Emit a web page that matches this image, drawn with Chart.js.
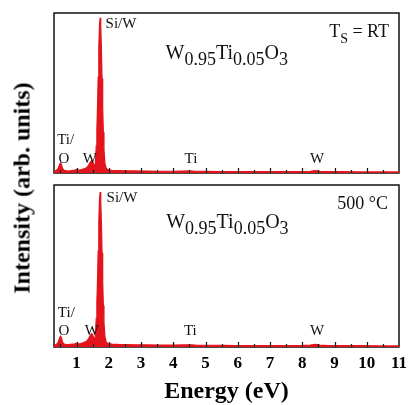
<!DOCTYPE html>
<html><head><meta charset="utf-8">
<script src="https://cdn.jsdelivr.net/npm/chart.js@4"></script>
<style>
html,body{margin:0;padding:0;background:#fff;}
#wrap{position:relative;width:409px;height:405px;overflow:hidden;background:#fff;}
.pane{position:absolute;left:0;width:409px;}
#ylab{position:absolute;left:22px;top:188px;transform:translate(-50%,-50%) rotate(-90deg);font:bold 24px "Liberation Serif";white-space:nowrap;color:#000;}
</style></head><body>
<div id="wrap">
<div class="pane" style="top:0;height:180px"><canvas id="c1" width="409" height="180"></canvas></div>
<div class="pane" style="top:180px;height:225px"><canvas id="c2" width="409" height="225"></canvas></div>
<div id="ylab">Intensity (arb. units)</div>
</div>
<script>
// Energy axis (eV)
const energy = [0.30,0.36,0.42,0.46,0.50,0.53,0.56,0.60,0.66,0.72,0.80,0.88,0.95,1.00,1.05,1.12,1.20,1.28,1.34,1.38,1.42,1.46,1.50,1.54,
  1.58,1.61,1.63,1.65,1.67,1.69,1.71,1.73,1.75,1.77,1.79,1.81,1.83,1.85,1.88,1.92,1.98,
  2.1,2.3,2.5,2.8,3.2,3.6,4.0,4.3,4.5,4.7,5.0,5.5,6.0,6.5,7.0,7.5,8.0,8.25,8.4,8.55,8.8,9.2,9.8,10.4,11.0];
// Counts, T_S = RT
const countsRT = [1.0,1.5,2.5,4.5,6.3,5.5,3.0,1.8,1.5,1.2,1.4,1.6,1.8,2.2,1.8,2.0,2.4,3.0,4.0,5.0,6.5,7.6,7.0,5.0,
  5.5,17,27,41.5,60,78,92,97,91.5,77.5,59,41,25.5,14.5,6,2.8,2.0,
  1.6,1.5,1.4,1.3,1.2,1.1,1.1,1.2,1.3,1.1,1.0,0.9,0.9,0.8,0.8,0.8,0.9,1.1,1.5,1.1,0.8,0.8,0.7,0.7,0.7];
// Counts, 500 °C
const counts500 = [1.0,1.5,2.5,4.8,6.8,6.0,3.2,2.0,1.6,1.4,1.6,1.8,2.0,2.4,2.0,2.2,2.6,3.2,4.3,5.5,7.2,8.4,7.6,5.4,
  6,18,28,42,60,78,92,97,91.5,77.5,59,41,26,15,6.5,3.0,2.2,
  1.8,1.6,1.5,1.4,1.3,1.2,1.2,1.3,1.4,1.2,1.1,1.0,0.9,0.9,0.9,0.9,1.0,1.2,1.6,1.2,0.9,0.8,0.8,0.7,0.7];
const majorTicks = [1,2,3,4,5,6,7,8,9,10,11];
const minorTicks = [0.5,1.5,2.5,3.5,4.5,5.5,6.5,7.5,8.5,9.5,10.5];
const xMin = 0.3, xMax = 11;
const yMaxRT = 100, yMax500 = 101.4;

const FAM = '"Liberation Serif", "DejaVu Serif", serif';

// Annotations: x,y in data units; parts = [text, fontSize, dy]
const labelsRT = [
  {x:1.90, y:90.7, parts:[['Si/W',15,0]]},
  {x:0.40, y:18.1, parts:[['Ti/',15,0]]},
  {x:0.44, y:6.2, parts:[['O',15,0]]},
  {x:1.19, y:6.2, parts:[['W',15,0]]},
  {x:4.35, y:6.2, parts:[['Ti',15,0]]},
  {x:8.24, y:6.2, parts:[['W',15,0]]},
  {x:3.76, y:71.3, parts:[['W',20,0],['0.95',18,6.5],['Ti',20,0],['0.05',18,6.5],['O',20,0],['3',18,6.5]]},
  {x:10.69, y:85.0, align:'right', parts:[['T',18,0],['S',14,6],[' = RT',18,0]]}
];
const labels500 = [
  {x:1.93, y:90.9, parts:[['Si/W',15,0]]},
  {x:0.42, y:19.0, parts:[['Ti/',15,0]]},
  {x:0.44, y:7.5, parts:[['O',15,0]]},
  {x:1.25, y:7.5, parts:[['W',15,0]]},
  {x:4.33, y:7.5, parts:[['Ti',15,0]]},
  {x:8.24, y:7.5, parts:[['W',15,0]]},
  {x:3.78, y:74.6, parts:[['W',20,0],['0.95',18,6.5],['Ti',20,0],['0.05',18,6.5],['O',20,0],['3',18,6.5]]},
  {x:10.66, y:86.3, align:'right', parts:[['500 °C',18,0]]}
];

const decor = {
  id:'decor',
  beforeDatasetsDraw(chart){
    const {ctx, chartArea:a} = chart;
    ctx.save();
    ctx.strokeStyle = '#111'; ctx.lineWidth = 1.5;
    ctx.strokeRect(a.left, a.top, a.right - a.left, a.bottom - a.top);
    ctx.restore();
  },
  afterDatasetsDraw(chart, args, opts){
    const {ctx, chartArea:a, scales} = chart;
    const sx = scales.x, sy = scales.y;
    ctx.save();
    ctx.strokeStyle = '#111'; ctx.lineWidth = 1.2;
    const tk = (v, len) => {
      const px = Math.round(sx.getPixelForValue(v)) + 0.5;
      ctx.beginPath(); ctx.moveTo(px, a.bottom); ctx.lineTo(px, a.bottom - len); ctx.stroke();
    };
    majorTicks.forEach(v => { if (v > xMin && v < xMax) tk(v, 5); });
    minorTicks.forEach(v => { if (v > xMin && v < xMax) tk(v, 3); });
    ctx.fillStyle = '#111';
    ctx.textBaseline = 'alphabetic';
    (opts.labels || []).forEach(l => {
      let px = sx.getPixelForValue(l.x);
      const py = sy.getPixelForValue(l.y);
      const widths = l.parts.map(p => { ctx.font = p[1] + 'px ' + FAM; return ctx.measureText(p[0]).width; });
      const total = widths.reduce((s, w) => s + w, 0);
      if (l.align === 'right') px -= total;
      ctx.textAlign = 'left';
      l.parts.forEach((p, i) => {
        ctx.font = p[1] + 'px ' + FAM;
        ctx.fillText(p[0], px, py + p[2]);
        px += widths[i];
      });
    });
    ctx.restore();
  }
};

function makeChart(id, counts, yMax, labels, showAxis){
  return new Chart(document.getElementById(id), {
    type:'line',
    data:{datasets:[{
      data: energy.map((e, i) => ({x:e, y:counts[i]})),
      borderColor:'#e3141c', backgroundColor:'#e3141c',
      borderWidth:1.2, pointRadius:0, fill:'origin', tension:0
    }]},
    options:{
      responsive:false, animation:false, events:[],
      layout:{padding: showAxis ? {left:54, right:10, top:5, bottom:1} : {left:54, right:10, top:13, bottom:7}},
      plugins:{legend:{display:false}, tooltip:{enabled:false}, decor:{labels}},
      scales:{
        x:{
          type:'linear', min:xMin, max:xMax, display:showAxis,
          grid:{display:false, drawTicks:false}, border:{display:false},
          afterBuildTicks: s => { s.ticks = majorTicks.map(v => ({value:v})); },
          afterFit: s => { s.paddingLeft = 0; s.paddingRight = 0; },
          ticks:{font:{family:FAM, size:17, weight:'bold', lineHeight:1}, color:'#000', padding:8, maxRotation:0, autoSkip:false},
          title:{display:true, text:'Energy (eV)', font:{family:FAM, size:24, weight:'bold', lineHeight:1}, color:'#000', padding:0}
        },
        y:{display:false, min:0, max:yMax}
      }
    },
    plugins:[decor]
  });
}
makeChart('c1', countsRT, yMaxRT, labelsRT, false);
makeChart('c2', counts500, yMax500, labels500, true);
</script>
</body></html>
